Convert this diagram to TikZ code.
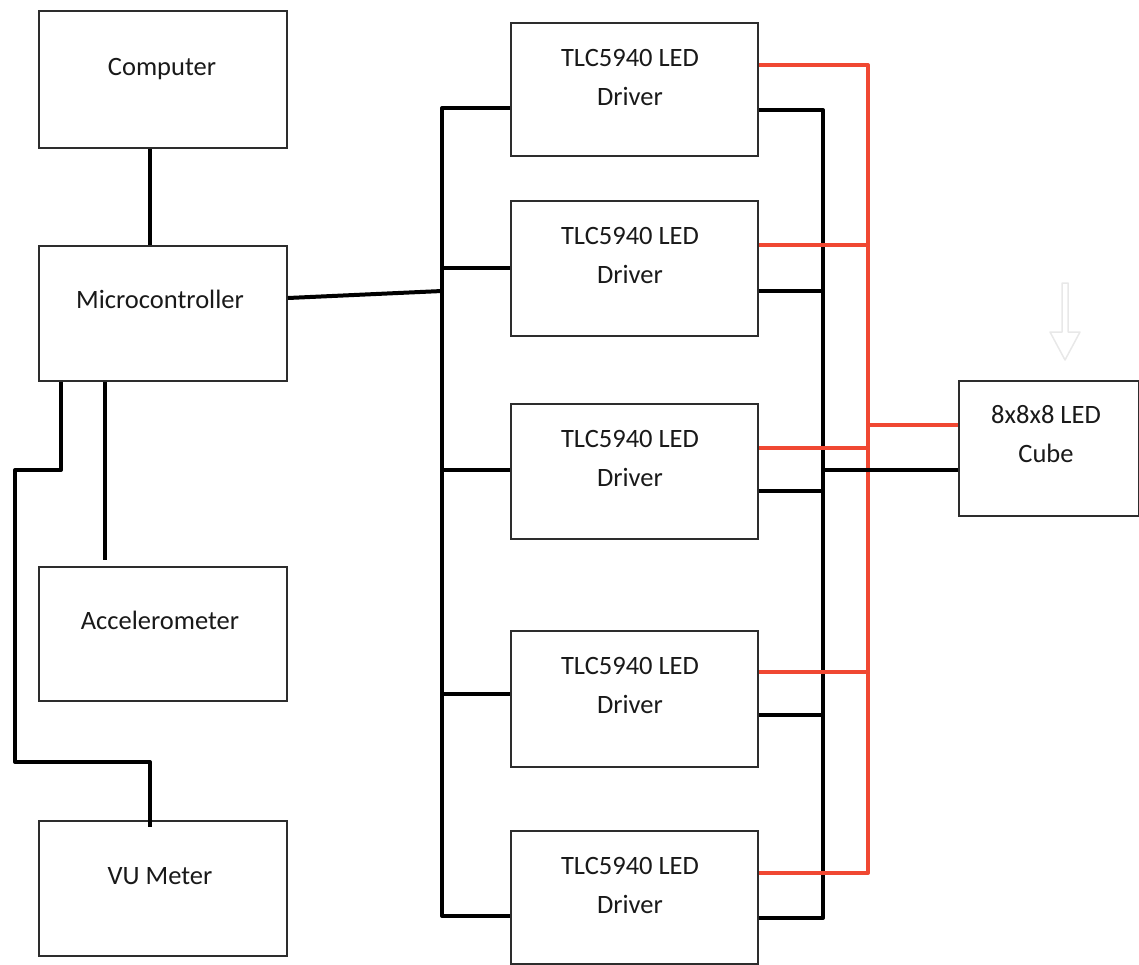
\documentclass[tikz,border=0pt]{standalone}
\usepackage{fontspec}
\setmainfont{Carlito}
\definecolor{redc}{RGB}{240,72,50}
\definecolor{boxc}{RGB}{45,45,45}
\begin{document}
\begin{tikzpicture}[x=1pt,y=-1pt,
  blk/.style={draw=boxc, line width=2pt, fill=white, inner sep=0pt, anchor=north west},
  lbl/.style={font=\fontsize{26.5}{39}\selectfont, anchor=base, inner sep=0pt, text=black!90},
  wire/.style={line width=4pt, black, line join=round},
  rwire/.style={line width=4pt, draw=redc, line join=round},
]
\useasboundingbox (0,0) rectangle (1139,964);

% hollow arrow above cube
\draw[draw=black!9, line width=1.5pt, fill=white, line join=round]
  (1062,283) -- (1068,283) -- (1068,332) -- (1080,332) -- (1065,360) -- (1050,332) -- (1062,332) -- cycle;

% left boxes
\node[blk, minimum width=248pt, minimum height=137pt] (comp) at (38,10) {};
\node[blk, minimum width=248pt, minimum height=135pt] (mcu) at (38,245) {};
\node[blk, minimum width=248pt, minimum height=134pt] (acc) at (38,566) {};
\node[blk, minimum width=248pt, minimum height=135pt] (vu) at (38,820) {};
% drivers
\node[blk, minimum width=247pt, minimum height=133pt] (d1) at (510,22) {};
\node[blk, minimum width=247pt, minimum height=135pt] (d2) at (510,200) {};
\node[blk, minimum width=247pt, minimum height=135pt] (d3) at (510,403) {};
\node[blk, minimum width=247pt, minimum height=136pt] (d4) at (510,630) {};
\node[blk, minimum width=247pt, minimum height=133pt] (d5) at (510,830) {};
% cube
\node[blk, minimum width=180pt, minimum height=135pt] (cube) at (958,380) {};

% labels
\node[lbl] (compt) at (162,75) {Computer};
\node[lbl] (mcut) at (160,308) {Microcontroller};
\node[lbl] (acct) at (160,629) {Accelerometer};
\node[lbl] (vut) at (160,884) {VU Meter};
\foreach \n/\t in {d1/22,d2/200,d3/403,d4/630,d5/830}{
  \node[lbl] (\n a) at (630,\t+44) {TLC5940 LED};
  \node[lbl] (\n b) at (630,\t+83) {Driver};
}
\node[lbl] (cubea) at (1046,423) {8x8x8 LED};
\node[lbl] (cubeb) at (1046,462) {Cube};

% left side wires
\draw[wire] (comp.south -| 150,0) -- (mcu.north -| 150,0);
\draw[wire] (mcu.south -| 105,0) -- (105,560);
\draw[wire] (mcu.south -| 61,0) -- (61,470) -- (15,470) -- (15,762) -- (150,762) -- (150,827);
\draw[wire] (mcu.east |- 0,298) -- (442,291);

% left bus
\draw[wire] (d1.west |- 0,108) -- (442,108) -- (442,916) -- (d5.west |- 0,916);
\draw[wire] (442,268) -- (d2.west |- 0,268);
\draw[wire] (442,470) -- (d3.west |- 0,470);
\draw[wire] (442,694) -- (d4.west |- 0,694);

% right black bus
\draw[wire] (d1.east |- 0,110) -- (823,110) -- (823,918) -- (d5.east |- 0,918);
\draw[wire] (d2.east |- 0,291) -- (823,291);
\draw[wire] (d3.east |- 0,491) -- (823,491);
\draw[wire] (d4.east |- 0,715) -- (823,715);

% red bus
\draw[rwire] (d1.east |- 0,65) -- (868,65) -- (868,873) -- (d5.east |- 0,873);
\draw[rwire] (d2.east |- 0,245) -- (868,245);
\draw[rwire] (d3.east |- 0,448) -- (868,448);
\draw[rwire] (d4.east |- 0,672) -- (868,672);
\draw[rwire] (868,425) -- (cube.west |- 0,425);

% cube black
\draw[wire] (823,470) -- (cube.west |- 0,470);
\end{tikzpicture}
\end{document}
